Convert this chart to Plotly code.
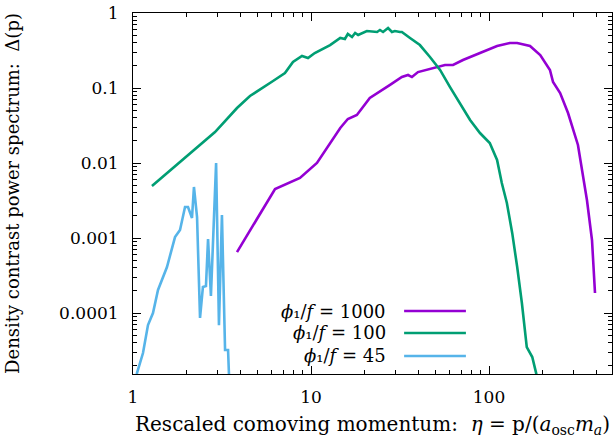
import plotly.graph_objects as go

# ---- data ----
eta_1000 = [3.84, 5.73, 6.28, 8.67, 10.8, 14.6, 16.1, 18.1, 21.4, 27.8, 32.4, 35.1, 36.9, 39.9,
            46.6, 53.1, 56.6, 62.8, 71.4, 89.0, 111, 131, 144, 170, 194, 220, 229, 251, 278,
            316, 333, 355, 379, 389, 394]
delta_1000 = [6.5e-4, 3.21e-3, 4.5e-3, 6.31e-3, 0.01, 0.0293, 0.0386, 0.0437, 0.0736, 0.110, 0.14,
              0.149, 0.14, 0.163, 0.179, 0.191, 0.203, 0.203, 0.236, 0.293, 0.363, 0.398, 0.398,
              0.363, 0.275, 0.174, 0.120, 0.0858, 0.0464, 0.0174, 8.07e-3, 3.21e-3, 9.4e-4,
              3.7e-4, 1.85e-4]

eta_100 = [1.278, 2.889, 3.84, 4.54, 6.12, 7.14, 7.92, 8.90, 9.62, 10.5, 12.8, 14.6, 15.5, 16.1,
           17.0, 17.7, 18.4, 20.6, 23.5, 24.4, 25.4, 27.1, 28.5, 29.6, 31.6, 32.4, 36.0, 40.9,
           46.6, 53.1, 60.4, 68.8, 78.3, 89.0, 101, 111, 118, 126, 135, 144, 153, 163, 175,
           184, 191]
delta_100 = [4.94e-3, 0.0259, 0.0541, 0.0782, 0.124, 0.158, 0.222, 0.267, 0.251, 0.293, 0.374,
             0.464, 0.45, 0.525, 0.479, 0.541, 0.509, 0.575, 0.558, 0.593, 0.558, 0.631, 0.558,
             0.575, 0.558, 0.558, 0.464, 0.374, 0.259, 0.174, 0.103, 0.0612, 0.0374, 0.0251,
             0.0185, 0.011, 5.41e-3, 2.93e-3, 1.17e-3, 4.1e-4, 1.36e-4, 3.52e-5, 2.59e-5,
             1.58e-5, 9.4e-6]

eta_45 = [1.04, 1.053, 1.138, 1.214, 1.295, 1.382, 1.552, 1.722, 1.837, 1.96, 2.037, 2.145,
          2.20, 2.29, 2.38, 2.47, 2.57, 2.64, 2.74, 2.93, 3.04, 3.16, 3.29, 3.42, 3.46, 3.51]
delta_45 = [1.28e-5, 1.58e-5, 2.93e-5, 6.92e-5, 1.0e-4, 2.03e-4, 4.1e-4, 1.03e-3, 1.28e-3,
            2.59e-3, 2.59e-3, 1.85e-3, 4.79e-3, 1.9e-3, 8.6e-5, 2.22e-4, 2.29e-4, 9.7e-4,
            1.69e-4, 1.0e-2, 6.9e-5, 2.03e-3, 3.21e-5, 3.21e-5, 1.54e-5, 8.1e-6]

series_names = ["<i>ϕ</i>₁/<i>f</i> = 1000",
                "<i>ϕ</i>₁/<i>f</i> = 100",
                "<i>ϕ</i>₁/<i>f</i> = 45"]
series_colors = ["#9400D3", "#009E73", "#56B4E9"]

x_tickvals = [1, 10, 100]
x_ticktext = ["1", "10", "100"]
y_tickvals = [1, 0.1, 0.01, 0.001, 0.0001]
y_ticktext = ["1", "0.1", "0.01", "0.001", "0.0001"]

x_minor = [m * 10 ** d for d in range(0, 3) for m in range(2, 10) if m * 10 ** d < 490]
y_minor = [m * 10.0 ** d for d in range(-5, 0) for m in range(2, 10)]

FONT = "DejaVu Serif"
FS = 17

fig = go.Figure()
for xs, ys, name, col in zip([eta_1000, eta_100, eta_45],
                             [delta_1000, delta_100, delta_45],
                             series_names, series_colors):
    fig.add_trace(go.Scatter(x=xs, y=ys, mode="lines", name=name,
                             line=dict(color=col, width=2.6), showlegend=False))

# custom legend (text on left, sample line on right, like gnuplot)
leg_y = [0.1745, 0.1136, 0.0499]
for name, col, yy in zip(series_names, series_colors, leg_y):
    fig.add_annotation(xref="paper", yref="paper", x=0.532, y=yy, text=name,
                       showarrow=False, xanchor="right", yanchor="middle",
                       font=dict(family=FONT, size=18, color="black"))
    fig.add_shape(type="line", xref="paper", yref="paper", x0=0.566, x1=0.695,
                  y0=yy, y1=yy, line=dict(color=col, width=2.6))

axis_common = dict(type="log", showline=True, linecolor="black", linewidth=1, mirror="allticks",
                   ticks="inside", ticklen=8, tickcolor="black", tickwidth=1,
                   showgrid=False, zeroline=False,
                   tickfont=dict(family=FONT, size=FS, color="black"))

fig.update_xaxes(range=[0, 2.691], tickmode="array", tickvals=x_tickvals, ticktext=x_ticktext,
                 minor=dict(ticks="inside", ticklen=4, tickcolor="black", tickwidth=1,
                            tickmode="array", tickvals=x_minor, showgrid=False),
                 ticklabelstandoff=8,
                 title=dict(text="Rescaled comoving momentum:  <i>η</i> = p/(<i>a</i><sub>osc</sub><i>m<sub>a</sub></i>)",
                            font=dict(family=FONT, size=20, color="black"), standoff=10),
                 **axis_common)
fig.update_yaxes(range=[-4.813, 0], tickmode="array", tickvals=y_tickvals, ticktext=y_ticktext,
                 minor=dict(ticks="inside", ticklen=4, tickcolor="black", tickwidth=1,
                            tickmode="array", tickvals=y_minor, showgrid=False),
                 ticklabelstandoff=10,
                 title=dict(text="Density contrast power spectrum:  Δ(p)",
                            font=dict(family=FONT, size=18, color="black"), standoff=34),
                 **axis_common)

fig.update_layout(width=613, height=444, margin=dict(l=133, r=1, t=13, b=70),
                  paper_bgcolor="white", plot_bgcolor="white")

fig.write_html("out.html")
